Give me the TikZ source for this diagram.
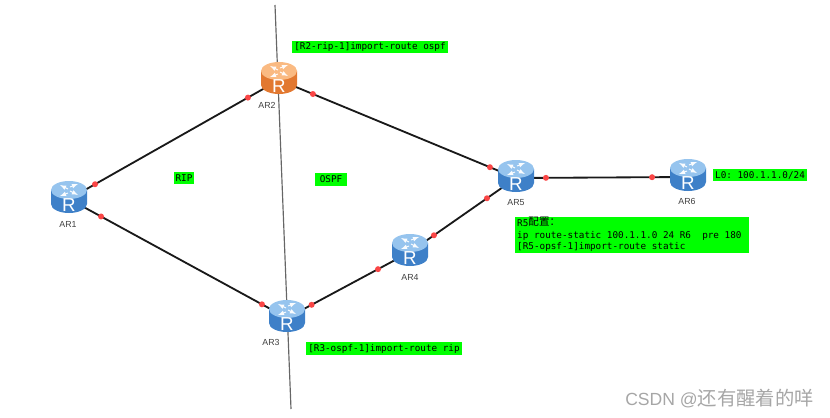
\documentclass[tikz,border=0pt]{standalone}
\usepackage{fontspec}
\setsansfont{Liberation Sans}
\setmonofont{DejaVu Sans Mono}
\newfontfamily\cjk{Noto Sans CJK SC}
\definecolor{tagGreen}{RGB}{0,255,0}
\definecolor{linkRed}{RGB}{250,70,70}
\definecolor{blueDark}{RGB}{62,128,200}
\definecolor{blueMid}{RGB}{112,176,232}
\definecolor{blueLid}{RGB}{150,196,238}
\definecolor{orangeDark}{RGB}{226,120,48}
\definecolor{orangeMid}{RGB}{246,170,104}
\definecolor{orangeLid}{RGB}{250,186,130}
\tikzset{
    routerbox/.style={circle, inner sep=0pt, minimum size=1pt},
    routerlabel/.style={font=\sffamily\fontsize{7.5}{9}\selectfont, text=black!75},
    tag/.style={fill=tagGreen, inner sep=0pt, font=\ttfamily\fontsize{7.95}{9.6}\selectfont},
    link/.style={line width=0.55mm, black!90},
    linkdot/.style={circle, fill=linkRed, inner sep=0pt, minimum size=1.8mm}
}
% one router icon on top of the named node #1, colours #2 dark, #3 middle, #4 lid
\newcommand{\routericon}[4]{
    \begin{scope}[shift={(#1.center)}, shift={(0,-2)}]
        \draw[draw=none, left color=#2, middle color=#3, right color=#2]
            (-18,-7) -- (-18,7) arc[start angle=180, end angle=0, x radius=18, y radius=9] -- (18,-7) -- cycle;
        \fill[#4] (0,-7) ellipse[x radius=18, y radius=9];
        % arrows on the lid
        \draw[-latex, white!95!#4, line width=0.28mm] (-1,-8) -- (-9,-12);
        \draw[-latex, white!95!#4, line width=0.28mm] (1,-10) -- (9,-13);
        \draw[-latex, white!95!#4, line width=0.28mm] (-1,-4) -- (-9,-1);
        \draw[-latex, white!95!#4, line width=0.28mm] (1,-6) -- (9,-2);
        \node[white, inner sep=0pt, font=\sffamily\fontsize{16}{16}\selectfont] (#1R) at (0,8) {R};
    \end{scope}
}
\begin{document}
\begin{tikzpicture}[x=0.3mm, y=-0.3mm]
    \useasboundingbox (0,0) rectangle (830,418);
    % Router positions
    \node[routerbox] (AR1) at (69,199) {};
    \node[routerbox] (AR2) at (279,80) {};
    \node[routerbox] (AR3) at (287,318) {};
    \node[routerbox] (AR4) at (410,252) {};
    \node[routerbox] (AR5) at (516,178) {};
    \node[routerbox] (AR6) at (688,177) {};
    % Border line between the two areas
    \coordinate (borderTop) at (275,5);
    \coordinate (borderBottom) at (291,409);
    \draw[line width=0.35mm, black!60] (borderTop) -- (borderBottom);
    % Links
    \draw[link] (AR1.center) -- (AR2.center)
        node[linkdot, pos=0.124] (dot12a) {} node[linkdot, pos=0.852] (dot12b) {};
    \draw[link] (AR2.center) -- (AR5.center)
        node[linkdot, pos=0.143] (dot25a) {} node[linkdot, pos=0.89] (dot25b) {};
    \draw[link] (AR1.center) -- (AR3.center)
        node[linkdot, pos=0.147] (dot13a) {} node[linkdot, pos=0.885] (dot13b) {};
    \draw[link] (AR3.center) -- (AR4.center)
        node[linkdot, pos=0.2] (dot34a) {} node[linkdot, pos=0.74] (dot34b) {};
    \draw[link] (AR4.center) -- (AR5.center)
        node[linkdot, pos=0.226] (dot45a) {} node[linkdot, pos=0.726] (dot45b) {};
    \draw[link] (AR5.center) -- (AR6.center)
        node[linkdot, pos=0.174] (dot56a) {} node[linkdot, pos=0.791] (dot56b) {};
    % Router icons
    \routericon{AR1}{blueDark}{blueMid}{blueLid}
    \routericon{AR2}{orangeDark}{orangeMid}{orangeLid}
    \routericon{AR3}{blueDark}{blueMid}{blueLid}
    \routericon{AR4}{blueDark}{blueMid}{blueLid}
    \routericon{AR5}{blueDark}{blueMid}{blueLid}
    \routericon{AR6}{blueDark}{blueMid}{blueLid}
    % Router names
    \node[routerlabel] (labelAR1) at (68,224) {AR1};
    \node[routerlabel] (labelAR2) at (267,105) {AR2};
    \node[routerlabel] (labelAR3) at (271,342) {AR3};
    \node[routerlabel] (labelAR4) at (410,277) {AR4};
    \node[routerlabel] (labelAR5) at (516,203) {AR5};
    \node[routerlabel] (labelAR6) at (687,201) {AR6};
    % Green notes
    \node[tag, minimum width=47mm, minimum height=3.7mm] (noteR2) at (370,47) {[R2-rip-1]import-route ospf};
    \node[tag, minimum width=6mm, minimum height=3.6mm] (noteRIP) at (184,178) {RIP};
    \node[tag, minimum width=9.6mm, minimum height=3.9mm] (noteOSPF) at (331,179.5) {OSPF\hspace{7pt}};
    \node[tag, minimum width=28.2mm, minimum height=3.6mm] (noteL0) at (760,175) {L0: 100.1.1.0/24};
    \node[tag, minimum width=46.8mm, minimum height=3.9mm] (noteR3) at (384,348.5) {[R3-ospf-1]import-route rip};
    \node[tag, anchor=north west, minimum width=70.2mm, minimum height=10.8mm] (noteR5) at (515,217) {};
    \node[anchor=north west, inner sep=0pt, align=left, font=\ttfamily\fontsize{7.95}{9.6}\selectfont] (textR5) at (517,217)
        {R5{\cjk\fontsize{9}{9}\selectfont\raisebox{1pt}{配置：}}\\ip route-static 100.1.1.0 24 R6\ \ pre 180\\{[R5-opsf-1]}import-route static};
    % Watermark
    \node[anchor=east, inner sep=0pt, text=black!35, font=\sffamily\fontsize{15}{16}\selectfont] (mark) at (814,399)
        {CSDN @{\cjk\fontsize{16.5}{16}\selectfont 还有醒着的咩}};
\end{tikzpicture}
\end{document}
